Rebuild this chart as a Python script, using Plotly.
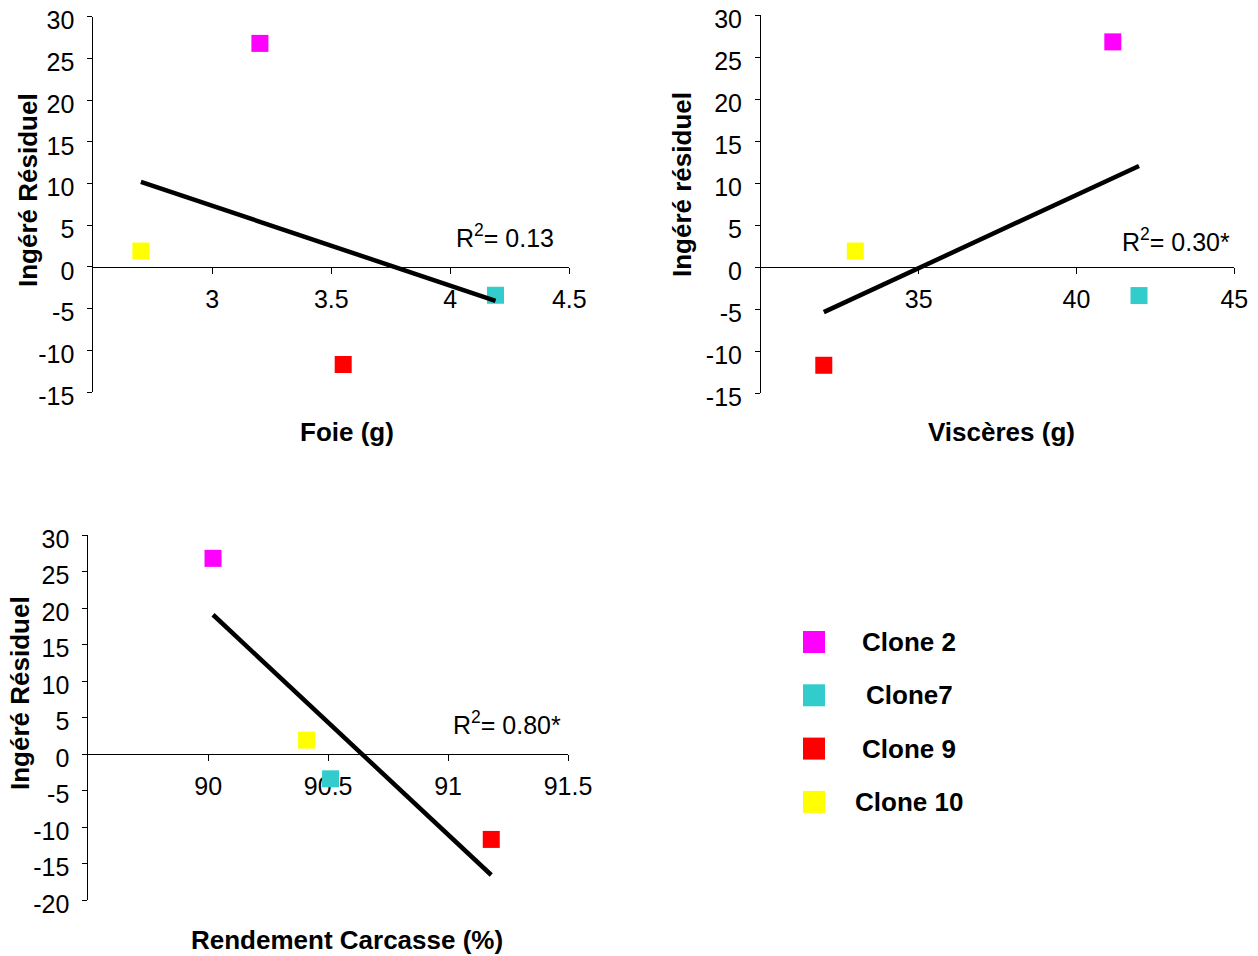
import numpy as np
import plotly.graph_objects as go

# ---------------- data ----------------
clones = ["Clone 2", "Clone7", "Clone 9", "Clone 10"]
colors = ["#FF00FF", "#33CCCC", "#FF0000", "#FFFF00"]
ingere_residuel = [26.8, -3.4, -11.7, 1.9]
foie = [3.20, 4.19, 3.55, 2.70]
visceres = [41.15, 41.98, 31.99, 32.99]
rendement = [90.02, 90.51, 91.18, 90.41]

x_titles = ["Foie (g)", "Viscères (g)", "Rendement Carcasse (%)"]
y_titles = ["Ingéré Résiduel", "Ingéré résiduel", "Ingéré Résiduel"]
r2_labels = ["R<sup>2</sup>= 0.13", "R<sup>2</sup>= 0.30*", "R<sup>2</sup>= 0.80*"]
x_ranges = [[2.5, 4.5], [30, 45], [89.5, 91.5]]
x_ticks = [[3, 3.5, 4, 4.5], [35, 40, 45], [90, 90.5, 91, 91.5]]
y_ranges = [[-15, 30], [-15, 30], [-20, 30]]
y_ticks = [[-15, -10, -5, 0, 5, 10, 15, 20, 25, 30],
           [-15, -10, -5, 0, 5, 10, 15, 20, 25, 30],
           [-20, -15, -10, -5, 0, 5, 10, 15, 20, 25, 30]]

# ---------------- layout helpers ----------------
W, H = 1258, 956
def px_x(p):
    return p / W
def px_y(p):
    return 1 - p / H

# plot areas in pixels: (left, right, top, bottom)
areas = [(93.3, 569.3, 16.7, 392.0),
         (761.0, 1234.3, 15.0, 393.0),
         (88.3, 568.0, 535.0, 900.0)]
ytitle_pos = [(28, 190), (682, 185), (20, 693)]
xtitle_pos = [(347, 432), (1001, 432), (347, 940)]
r2_pos = [(505, 236), (1176, 240), (507, 723)]

FONT = "Liberation Sans, Arial, sans-serif"
xs_all = [foie, visceres, rendement]

def fmt(v):
    return ("%g" % v)

fig = go.Figure()
layout = dict(width=W, height=H, margin=dict(l=0, r=0, t=0, b=0, autoexpand=False),
              paper_bgcolor="white", plot_bgcolor="white",
              showlegend=False, font=dict(family=FONT, size=25, color="black"))
annotations = []
shapes = []

for k in range(3):
    sx = "" if k == 0 else str(k + 1)
    xv = xs_all[k]
    # markers
    fig.add_trace(go.Scatter(
        x=xv, y=ingere_residuel, mode="markers",
        marker=dict(symbol="square", size=17, color=colors, line=dict(width=0)),
        cliponaxis=False, xaxis="x" + sx, yaxis="y" + sx, showlegend=False,
        hovertext=clones))
    # linear trend line
    slope, intercept = np.polyfit(xv, ingere_residuel, 1)
    xl = np.array([min(xv), max(xv)])
    fig.add_trace(go.Scatter(
        x=xl, y=slope * xl + intercept, mode="lines",
        line=dict(color="black", width=4.5), cliponaxis=False,
        xaxis="x" + sx, yaxis="y" + sx, showlegend=False))

    l, r, t, b = areas[k]
    ydom = [px_y(b), px_y(t)]
    ymin, ymax = y_ranges[k]
    zero_pos = ydom[0] + (0 - ymin) / (ymax - ymin) * (ydom[1] - ydom[0])
    layout["xaxis" + sx] = dict(
        domain=[px_x(l), px_x(r)], range=x_ranges[k], tickvals=x_ticks[k],
        ticktext=[fmt(v) for v in x_ticks[k]],
        anchor="free", position=zero_pos, showline=True, linecolor="black",
        linewidth=1, ticks="outside", ticklen=6, tickcolor="black",
        showgrid=False, zeroline=False, layer="below traces", automargin=False,
        ticklabeloverflow="allow",
        tickfont=dict(family=FONT, size=25, color="black"),
        ticklabelstandoff=4)
    layout["yaxis" + sx] = dict(
        domain=ydom, range=y_ranges[k], tickvals=y_ticks[k],
        ticktext=[fmt(v) for v in y_ticks[k]],
        anchor="x" + sx, showline=True, linecolor="black", linewidth=1,
        ticks="outside", ticklen=5, tickcolor="black", showgrid=False,
        zeroline=False, automargin=False, ticklabeloverflow="allow",
        tickfont=dict(family=FONT, size=25, color="black"),
        ticklabelstandoff=8, ticklabelshift=4)

    annotations.append(dict(
        text="<b>" + y_titles[k] + "</b>", x=px_x(ytitle_pos[k][0]), y=px_y(ytitle_pos[k][1]),
        xref="paper", yref="paper", showarrow=False, textangle=-90,
        xanchor="center", yanchor="middle", font=dict(family=FONT, size=26, color="black")))
    annotations.append(dict(
        text="<b>" + x_titles[k] + "</b>", x=px_x(xtitle_pos[k][0]), y=px_y(xtitle_pos[k][1]),
        xref="paper", yref="paper", showarrow=False,
        xanchor="center", yanchor="middle", font=dict(family=FONT, size=26, color="black")))
    annotations.append(dict(
        text=r2_labels[k], x=px_x(r2_pos[k][0]), y=px_y(r2_pos[k][1]),
        xref="paper", yref="paper", showarrow=False,
        xanchor="center", yanchor="middle", font=dict(family=FONT, size=25, color="black")))

# legend (swatch + centred bold label)
leg_x, leg_y0, leg_dy, sw = 814, 642, 53.3, 22
for i, (name, col) in enumerate(zip(clones, colors)):
    cy = leg_y0 + i * leg_dy
    shapes.append(dict(type="rect", xref="paper", yref="paper",
                       x0=px_x(leg_x - sw / 2), x1=px_x(leg_x + sw / 2),
                       y0=px_y(cy + sw / 2), y1=px_y(cy - sw / 2),
                       fillcolor=col, line=dict(width=0)))
    annotations.append(dict(text="<b>" + name + "</b>", x=px_x(909), y=px_y(cy),
                            xref="paper", yref="paper", showarrow=False,
                            xanchor="center", yanchor="middle",
                            font=dict(family=FONT, size=26, color="black")))

layout["annotations"] = annotations
layout["shapes"] = shapes
fig.update_layout(**layout)
fig.write_html("out.html")
